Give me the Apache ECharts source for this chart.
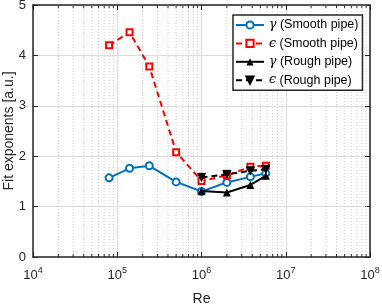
<!DOCTYPE html>
<html><head><meta charset="utf-8">
<script src="https://cdn.jsdelivr.net/npm/echarts@6/dist/echarts.min.js"></script>
<style>html,body{margin:0;padding:0;background:#fff}#c{width:382px;height:305px}</style>
</head><body><div id="c"></div>
<script>
// Data
const reSmooth = [8e4, 1.4e5, 2.4e5, 5e5, 1e6, 2e6, 3.8e6, 5.8e6];
const gammaSmooth = [1.57, 1.76, 1.81, 1.49, 1.30, 1.48, 1.59, 1.66];
const epsSmooth = [4.20, 4.46, 3.78, 2.08, 1.51, 1.62, 1.79, 1.81];
const reRough = [1e6, 2e6, 3.8e6, 5.8e6];
const gammaRough = [1.31, 1.28, 1.43, 1.61];
const epsRough = [1.58, 1.64, 1.71, 1.74];
const seriesNames = ['γ (Smooth pipe)', 'ϵ (Smooth pipe)', 'γ (Rough pipe)', 'ϵ (Rough pipe)'];
const xMin = 1e4, xMax = 1e8;
const yMin = 0, yMax = 5;
const minorTicks = [];
for (let e = 4; e < 8; e++) for (let k = 2; k <= 9; k++) minorTicks.push(k * Math.pow(10, e));

const zip = (xs, ys) => xs.map((x, i) => [x, ys[i]]);
const axisCol = '#262626';
const font = 'Liberation Sans';

const chart = echarts.init(document.getElementById('c'), null, {renderer: 'canvas'});
const xCommon = {
  type: 'log', logBase: 10, min: xMin, max: xMax,
  axisLine: {show: true, onZero: false, lineStyle: {color: axisCol, width: 1.5}},
  axisTick: {show: true, inside: true, length: 5, lineStyle: {color: axisCol, width: 1}},
};
const yCommon = {
  type: 'value', min: yMin, max: yMax, interval: 1,
  axisLine: {show: true, onZero: false, lineStyle: {color: axisCol, width: 1.5}},
  axisTick: {show: true, inside: true, length: 5, lineStyle: {color: axisCol, width: 1}},
};
chart.setOption({
  animation: false,
  backgroundColor: '#fff',
  grid: {left: 33, right: 12, top: 5, bottom: 48, containLabel: false, outerBoundsMode: 'none'},
  xAxis: [
    Object.assign({}, xCommon, {
      position: 'bottom',
      name: 'Re', nameLocation: 'middle', nameGap: 35, nameMoveOverlap: false,
      nameTextStyle: {fontFamily: font, fontSize: 14, color: axisCol},
      axisLabel: {
        margin: 9, color: axisCol, fontFamily: font,
        formatter: v => '{b|10}{s|' + Math.round(Math.log10(v)) + '}',
        rich: {b: {fontSize: 13, fontFamily: font, color: axisCol},
               s: {fontSize: 9, fontFamily: font, color: axisCol, padding: [0, 0, 9, 0]}}
      },
      splitLine: {show: true, lineStyle: {color: '#dcdcdc', width: 1.2}}
    }),
    Object.assign({}, xCommon, {position: 'top', axisLabel: {show: false}, splitLine: {show: false}})
  ],
  yAxis: [
    Object.assign({}, yCommon, {
      position: 'left',
      name: 'Fit exponents [a.u.]', nameLocation: 'middle', nameGap: 17, nameMoveOverlap: false,
      nameTextStyle: {fontFamily: font, fontSize: 14, color: axisCol},
      axisLabel: {margin: 7, fontFamily: font, fontSize: 13, color: axisCol},
      splitLine: {show: true, lineStyle: {color: '#dcdcdc', width: 1.2}}
    }),
    Object.assign({}, yCommon, {position: 'right', axisLabel: {show: false}, splitLine: {show: false}})
  ],
  legend: {
    orient: 'vertical', left: 233, top: 15,
    data: seriesNames,
    backgroundColor: '#fff', borderColor: axisCol, borderWidth: 1.5, borderRadius: 0,
    padding: [3, 4, 3, 2], itemGap: 4.4, itemWidth: 28, itemHeight: 9,
    textStyle: {fontFamily: font, fontSize: 12.5, color: '#000', lineHeight: 14,
      rich: {g: {fontFamily: 'DejaVu Serif', fontStyle: 'italic', fontSize: 12.5, color: '#000'}}},
    formatter: n => '{g|' + n.charAt(0) + '}' + n.slice(1)
  },
  series: [
    {
      type: 'custom', silent: true, z: 1, xAxisIndex: 0, yAxisIndex: 0,
      data: minorTicks.map(v => [v, 0]),
      renderItem: (params, api) => {
        const x = api.coord([api.value(0), 0])[0];
        const top = params.coordSys.y, bottom = top + params.coordSys.height;
        return {type: 'group', children: [
          {type: 'line', shape: {x1: x, y1: top, x2: x, y2: bottom}, style: {stroke: '#cfcfcf', lineWidth: 1, lineDash: [1, 2]}},
          {type: 'line', shape: {x1: x, y1: bottom, x2: x, y2: bottom - 3}, style: {stroke: axisCol, lineWidth: 1}},
          {type: 'line', shape: {x1: x, y1: top, x2: x, y2: top + 3}, style: {stroke: axisCol, lineWidth: 1}}
        ]};
      }
    },
    {
      name: seriesNames[0], type: 'line', data: zip(reSmooth, gammaSmooth), z: 3,
      symbol: 'emptyCircle', symbolSize: 7,
      lineStyle: {color: '#0072BD', width: 2},
      itemStyle: {color: '#0072BD', borderWidth: 1.6}
    },
    {
      name: seriesNames[1], type: 'line', data: zip(reSmooth, epsSmooth), z: 4,
      symbol: 'emptyRect', symbolSize: 6,
      lineStyle: {color: '#FF0000', width: 2, type: [6, 4]},
      itemStyle: {color: '#FF0000', borderWidth: 1.8}
    },
    {
      name: seriesNames[2], type: 'line', data: zip(reRough, gammaRough), z: 5,
      symbol: 'triangle', symbolSize: 8,
      lineStyle: {color: '#000', width: 2},
      itemStyle: {color: '#000'}
    },
    {
      name: seriesNames[3], type: 'line', data: zip(reRough, epsRough), z: 6,
      symbol: 'triangle', symbolSize: 8, symbolRotate: 180,
      lineStyle: {color: '#000', width: 2, type: [6, 4]},
      itemStyle: {color: '#000', borderColor: '#000', borderWidth: 1}
    }
  ]
});
</script></body></html>
